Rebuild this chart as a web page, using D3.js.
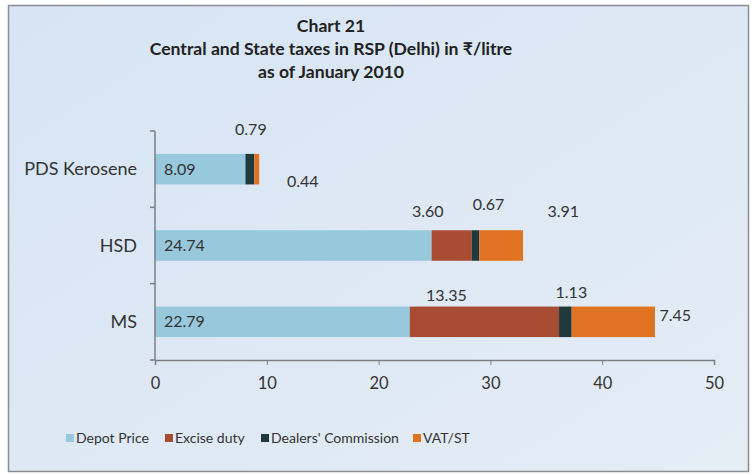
<!DOCTYPE html>
<html>
<head>
<meta charset="utf-8">
<script src="https://cdn.jsdelivr.net/npm/d3@7"></script>
<style>
  body { margin: 0; background: #fff; }
  svg { display: block; font-family: Lato, "Open Sans", sans-serif; }
</style>
</head>
<body>
<div id="chart"></div>
<script>
// Chart data (Rs/litre, January 2010)
const products = ["PDS Kerosene", "HSD", "MS"];
const seriesNames = ["Depot Price", "Excise duty", "Dealers' Commission", "VAT/ST"];
const depotPrice = [8.09, 24.74, 22.79];
const exciseDuty = [0, 3.60, 13.35];
const dealersCommission = [0.79, 0.67, 1.13];
const vatST = [0.44, 3.91, 7.45];
const xTicks = [0, 10, 20, 30, 40, 50];

const colors = ["#98c8dc", "#a84c33", "#1f3a3c", "#e07322"];

// label offsets from segment centre (px), mimicking hand-placed labels
const labelOffsets = {
  "PDS Kerosene": [null, null, [1, -40], [46, 12]],
  "HSD": [null, [-24, -34], [13, -41], [62, -34]],
  "MS": [null, [-38, -26], [6, -29], [62, -6]]
};

const width = 752, height = 475;
const marginLeft = 155, marginRight = 38, marginTop = 131, marginBottom = 115;

const rows = products.map((p, i) => ({
  product: p,
  values: [depotPrice[i], exciseDuty[i], dealersCommission[i], vatST[i]]
}));

const x = d3.scaleLinear()
  .domain([0, 50])
  .range([marginLeft, width - marginRight]);

const y = d3.scaleBand()
  .domain(products)
  .range([marginTop, height - marginBottom])
  .paddingInner(0.6)
  .paddingOuter(0.3);

const svg = d3.select("#chart").append("svg")
  .attr("width", width)
  .attr("height", height)
  .attr("viewBox", [0, 0, width, height]);

// background + frame
const grad = svg.append("defs").append("linearGradient")
  .attr("id", "bg").attr("x1", 0).attr("y1", 0).attr("x2", 1).attr("y2", 1);
grad.append("stop").attr("offset", 0).attr("stop-color", "#d6e4f4");
grad.append("stop").attr("offset", 1).attr("stop-color", "#e5edf5");

svg.append("rect")
  .attr("x", 8.5).attr("y", 5.5)
  .attr("width", width - 12).attr("height", height - 9)
  .attr("fill", "url(#bg)")
  .attr("stroke", "#8a8d91")
  .attr("stroke-width", 1.5);

// title
const title = svg.append("g")
  .attr("font-weight", "bold")
  .attr("font-size", 17.6)
  .attr("fill", "#222")
  .attr("text-anchor", "middle");
title.append("text").attr("x", 331).attr("y", 32).text("Chart 21");
title.append("text").attr("x", 331).attr("y", 55).text("Central and State taxes in RSP (Delhi) in \u20B9/litre");
title.append("text").attr("x", 331).attr("y", 78).text("as of January 2010");

// stacked bars
const segs = rows.flatMap(r => {
  let x0 = 0;
  return r.values.map((v, k) => {
    const s = { product: r.product, k, v, x0, x1: x0 + v };
    x0 += v;
    return s;
  });
});

svg.append("g")
  .selectAll("rect")
  .data(segs.filter(d => d.v > 0))
  .join("rect")
  .attr("x", d => x(d.x0))
  .attr("y", d => y(d.product))
  .attr("width", d => x(d.x1) - x(d.x0))
  .attr("height", y.bandwidth())
  .attr("fill", d => colors[d.k]);

// data labels
svg.append("g")
  .attr("font-size", 16)
  .attr("fill", "#333")
  .selectAll("text")
  .data(segs.filter(d => d.k === 0 || labelOffsets[d.product][d.k]))
  .join("text")
  .attr("x", d => d.k === 0 ? x(d.x0) + 9 : x((d.x0 + d.x1) / 2) + labelOffsets[d.product][d.k][0])
  .attr("y", d => y(d.product) + y.bandwidth() / 2 + (d.k === 0 ? 0 : labelOffsets[d.product][d.k][1]))
  .attr("dy", "0.35em")
  .attr("text-anchor", d => d.k === 0 ? "start" : "middle")
  .text(d => d.v.toFixed(2));

// x axis
svg.append("g")
  .attr("transform", `translate(0,${height - marginBottom})`)
  .call(d3.axisBottom(x).tickValues(xTicks).tickSize(5).tickPadding(12))
  .call(g => g.select(".domain").attr("stroke", "#7b7f84").attr("stroke-width", 1.5))
  .call(g => g.selectAll(".tick line").attr("stroke", "#7b7f84"))
  .call(g => g.selectAll(".tick text").attr("font-size", 16.5).attr("fill", "#333").attr("font-family", "Lato, sans-serif"));

// y axis: ticks at category boundaries
const yEdges = [marginTop, ...products.slice(1).map(p => y(p) - y.step() * y.paddingInner() / 2), height - marginBottom];
const yAxis = svg.append("g");
yAxis.append("line")
  .attr("x1", marginLeft).attr("x2", marginLeft)
  .attr("y1", marginTop).attr("y2", height - marginBottom)
  .attr("stroke", "#7b7f84").attr("stroke-width", 1.5);
yAxis.selectAll("line.t")
  .data(yEdges)
  .join("line")
  .attr("class", "t")
  .attr("x1", marginLeft - 5).attr("x2", marginLeft)
  .attr("y1", d => d).attr("y2", d => d)
  .attr("stroke", "#7b7f84").attr("stroke-width", 1.5);
yAxis.selectAll("text")
  .data(products)
  .join("text")
  .attr("x", marginLeft - 18)
  .attr("y", d => y(d) + y.bandwidth() / 2)
  .attr("dy", "0.35em")
  .attr("text-anchor", "end")
  .attr("font-size", 18)
  .attr("fill", "#333")
  .text(d => d);

// legend
const legendX = [66, 165, 261, 413];
const legend = svg.append("g")
  .selectAll("g")
  .data(seriesNames)
  .join("g")
  .attr("transform", (d, i) => `translate(${legendX[i]},${438})`);
legend.append("rect")
  .attr("x", 0).attr("y", -4)
  .attr("width", 8).attr("height", 8)
  .attr("fill", (d, i) => colors[i]);
legend.append("text")
  .attr("x", 10)
  .attr("y", 0)
  .attr("dy", "0.35em")
  .attr("font-size", 14)
  .attr("fill", "#333")
  .text(d => d);
</script>
</body>
</html>
